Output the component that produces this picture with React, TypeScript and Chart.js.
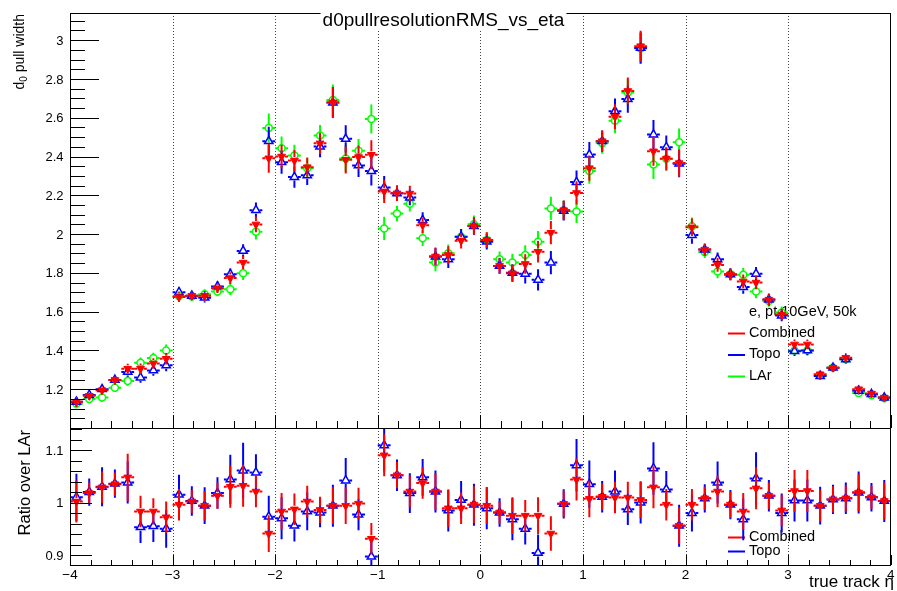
import React, { useEffect, useRef } from 'react';
import { Chart, registerables } from 'chart.js';

Chart.register(...registerables);

const FONT = '"Liberation Sans", Arial, Helvetica, sans-serif';

// 64 eta bins of width 0.125 between -4 and 4
const etaBinCentres = [
  -3.9375, -3.8125, -3.6875, -3.5625, -3.4375, -3.3125, -3.1875, -3.0625,
  -2.9375, -2.8125, -2.6875, -2.5625, -2.4375, -2.3125, -2.1875, -2.0625,
  -1.9375, -1.8125, -1.6875, -1.5625, -1.4375, -1.3125, -1.1875, -1.0625,
  -0.9375, -0.8125, -0.6875, -0.5625, -0.4375, -0.3125, -0.1875, -0.0625,
  0.0625, 0.1875, 0.3125, 0.4375, 0.5625, 0.6875, 0.8125, 0.9375,
  1.0625, 1.1875, 1.3125, 1.4375, 1.5625, 1.6875, 1.8125, 1.9375,
  2.0625, 2.1875, 2.3125, 2.4375, 2.5625, 2.6875, 2.8125, 2.9375,
  3.0625, 3.1875, 3.3125, 3.4375, 3.5625, 3.6875, 3.8125, 3.9375,
];
const etaBinHalfWidth = 0.0625;

// d0 pull width per eta bin
const pullCombined = [
  1.135, 1.166, 1.195, 1.248, 1.306, 1.306, 1.333, 1.357,
  1.675, 1.682, 1.682, 1.721, 1.773, 1.853, 2.05, 2.391,
  2.4, 2.379, 2.345, 2.468, 2.678, 2.383, 2.397, 2.409,
  2.22, 2.21, 2.209, 2.046, 1.884, 1.892, 1.966, 2.041,
  1.969, 1.836, 1.798, 1.846, 1.909, 2.007, 2.123, 2.212,
  2.34, 2.479, 2.605, 2.738, 2.969, 2.427, 2.388, 2.366,
  2.035, 1.92, 1.841, 1.792, 1.756, 1.75, 1.662, 1.585,
  1.431, 1.431, 1.277, 1.311, 1.362, 1.2, 1.178, 1.157,
];
const pullTopo = [
  1.135, 1.17, 1.2, 1.248, 1.289, 1.26, 1.297, 1.323,
  1.7, 1.682, 1.672, 1.73, 1.793, 1.913, 2.123, 2.479,
  2.371, 2.294, 2.303, 2.451, 2.678, 2.491, 2.354, 2.325,
  2.24, 2.21, 2.188, 2.072, 1.884, 1.87, 1.986, 2.041,
  1.961, 1.836, 1.8, 1.795, 1.764, 1.853, 2.12, 2.268,
  2.41, 2.479, 2.634, 2.696, 2.96, 2.513, 2.448, 2.363,
  1.995, 1.92, 1.87, 1.792, 1.727, 1.795, 1.662, 1.58,
  1.396, 1.4, 1.268, 1.311, 1.354, 1.192, 1.175, 1.157,
];
const pullLAr = [
  1.125, 1.149, 1.157, 1.207, 1.243, 1.337, 1.361, 1.4,
  1.68, 1.678, 1.69, 1.704, 1.716, 1.798, 2.012, 2.547,
  2.443, 2.405, 2.34, 2.508, 2.691, 2.39, 2.43, 2.593,
  2.029, 2.106, 2.157, 1.978, 1.853, 1.901, 1.986, 2.051,
  1.97, 1.87, 1.853, 1.892, 1.961, 2.132, 2.123, 2.117,
  2.325, 2.469, 2.585, 2.73, 2.957, 2.359, 2.388, 2.474,
  2.04, 1.907, 1.807, 1.793, 1.79, 1.704, 1.655, 1.596,
  1.4, 1.4, 1.272, 1.311, 1.354, 1.18, 1.169, 1.153,
];
const pullError = [
  0.025, 0.022, 0.022, 0.022, 0.025, 0.027, 0.027, 0.03,
  0.025, 0.022, 0.025, 0.025, 0.03, 0.035, 0.04, 0.075,
  0.06, 0.055, 0.05, 0.055, 0.08, 0.07, 0.06, 0.075,
  0.06, 0.04, 0.04, 0.04, 0.045, 0.045, 0.04, 0.045,
  0.04, 0.04, 0.045, 0.05, 0.055, 0.06, 0.05, 0.06,
  0.065, 0.055, 0.065, 0.07, 0.08, 0.075, 0.06, 0.07,
  0.045, 0.03, 0.035, 0.03, 0.035, 0.035, 0.03, 0.03,
  0.025, 0.025, 0.02, 0.02, 0.022, 0.02, 0.018, 0.018,
];

// ratios to the LAr measurement
const ratioCombined = [
  1.002, 1.018, 1.029, 1.035, 1.048, 0.983, 0.983, 0.972,
  0.996, 1.002, 0.994, 1.013, 1.03, 1.032, 1.021, 0.941,
  0.983, 0.987, 1.002, 0.986, 0.994, 0.994, 0.998, 0.931,
  1.09, 1.052, 1.021, 1.037, 1.021, 0.989, 0.989, 0.996,
  0.994, 0.981, 0.975, 0.975, 0.975, 0.941, 0.9975, 1.044,
  1.007, 1.011, 1.0095, 1.0095, 1.005, 1.029, 0.996, 0.956,
  0.996, 1.008, 1.021, 0.996, 0.983, 1.027, 1.013, 0.985,
  1.022, 1.022, 0.994, 1.006, 1.008, 1.019, 1.01, 1.003,
];
const ratioTopo = [
  1.01, 1.02, 1.03, 1.036, 1.038, 0.953, 0.955, 0.95,
  1.015, 1.003, 0.994, 1.018, 1.044, 1.061, 1.057, 0.973,
  0.97, 0.956, 0.983, 0.981, 0.994, 1.042, 0.977, 0.897,
  1.109, 1.052, 1.018, 1.048, 1.021, 0.985, 1.005, 0.996,
  0.989, 0.981, 0.968, 0.95, 0.904, 0.869, 0.9975, 1.071,
  1.035, 1.011, 1.021, 0.987, 1.0, 1.065, 1.025, 0.956,
  0.98, 1.008, 1.038, 0.996, 0.968, 1.046, 1.013, 0.98,
  1.004, 1.004, 0.994, 1.006, 1.008, 1.019, 1.01, 1.003,
];
const ratioErrCombined = [
  0.04, 0.02, 0.03, 0.022, 0.045, 0.03, 0.025, 0.03,
  0.03, 0.022, 0.028, 0.025, 0.04, 0.04, 0.03, 0.035,
  0.035, 0.03, 0.03, 0.025, 0.035, 0.035, 0.03, 0.03,
  0.04, 0.025, 0.03, 0.03, 0.035, 0.035, 0.03, 0.035,
  0.035, 0.022, 0.035, 0.03, 0.035, 0.033, 0.025, 0.04,
  0.035, 0.025, 0.03, 0.03, 0.035, 0.04, 0.03, 0.035,
  0.03, 0.022, 0.03, 0.025, 0.035, 0.04, 0.025, 0.03,
  0.04, 0.04, 0.03, 0.025, 0.025, 0.035, 0.022, 0.035,
];
const ratioErrTopo = [
  0.045, 0.026, 0.037, 0.027, 0.04, 0.03, 0.03, 0.036,
  0.038, 0.028, 0.035, 0.03, 0.047, 0.053, 0.035, 0.04,
  0.04, 0.03, 0.036, 0.028, 0.04, 0.043, 0.03, 0.03,
  0.05, 0.03, 0.038, 0.035, 0.04, 0.04, 0.036, 0.04,
  0.04, 0.027, 0.04, 0.03, 0.035, 0.035, 0.028, 0.05,
  0.045, 0.03, 0.04, 0.03, 0.04, 0.05, 0.035, 0.04,
  0.035, 0.027, 0.04, 0.028, 0.04, 0.05, 0.03, 0.037,
  0.04, 0.04, 0.036, 0.028, 0.03, 0.04, 0.027, 0.04,
];

const pullTickValues = [1.2, 1.4, 1.6, 1.8, 2, 2.2, 2.4, 2.6, 2.8, 3];
const pullTickLabels = ['1.2', '1.4', '1.6', '1.8', '2', '2.2', '2.4', '2.6', '2.8', '3'];
const ratioTickValues = [0.9, 1, 1.1];
const ratioTickLabels = ['0.9', '1', '1.1'];
const etaTickValues = [-4, -3, -2, -1, 0, 1, 2, 3, 4];
const etaTickLabels = ['\u22124', '\u22123', '\u22122', '\u22121', '0', '1', '2', '3', '4'];
const etaGridValues = [-3, -2, -1, 0, 1, 2, 3];

const RED = '#ff0000';
const BLUE = '#0000ff';
const GREEN = '#00ff00';
const GAP = 3.5;

type TextPart = { text: string; size: number; dy: number };

function drawRotated(ctx: CanvasRenderingContext2D, baseX: number, endY: number, parts: TextPart[]) {
  ctx.save();
  ctx.translate(baseX, endY);
  ctx.rotate(-Math.PI / 2);
  ctx.fillStyle = '#000';
  ctx.textAlign = 'left';
  ctx.textBaseline = 'alphabetic';
  let total = 0;
  for (const p of parts) {
    ctx.font = `${p.size}px ${FONT}`;
    total += ctx.measureText(p.text).width;
  }
  let pos = -total;
  for (const p of parts) {
    ctx.font = `${p.size}px ${FONT}`;
    ctx.fillText(p.text, pos, p.dy);
    pos += ctx.measureText(p.text).width;
  }
  ctx.restore();
}

type LegendEntry = { label: string; color: string; y: number };

type PadConfig = {
  errors: number[][];
  colors: string[];
  yTicks: number[];
  yLabels: string[];
  yMinorStep: number;
  yMajorLen: number;
  yMinorLen: number;
  xMajorLen: number;
  xMinorLen: number;
  header?: { text: string; y: number };
  legend: LegendEntry[];
  legendFont: number;
  extras: (ctx: CanvasRenderingContext2D, chart: any) => void;
};

function makePadPlugin(cfg: PadConfig) {
  return {
    id: 'rootPad',
    beforeDatasetsDraw(chart: any) {
      const { ctx, chartArea: a, scales } = chart;
      ctx.save();
      // dotted vertical grid at integer eta
      ctx.strokeStyle = '#444';
      ctx.lineWidth = 1;
      ctx.setLineDash([1, 2]);
      for (const v of etaGridValues) {
        const px = Math.round(scales.x.getPixelForValue(v)) + 0.5;
        ctx.beginPath();
        ctx.moveTo(px, a.top);
        ctx.lineTo(px, a.bottom);
        ctx.stroke();
      }
      ctx.setLineDash([]);
      // legend (drawn beneath the markers)
      ctx.textAlign = 'left';
      ctx.textBaseline = 'middle';
      ctx.fillStyle = '#000';
      if (cfg.header) {
        ctx.font = `14.5px ${FONT}`;
        ctx.fillText(cfg.header.text, 749, cfg.header.y);
      }
      ctx.font = `${cfg.legendFont}px ${FONT}`;
      for (const e of cfg.legend) {
        ctx.strokeStyle = e.color;
        ctx.lineWidth = 2;
        ctx.beginPath();
        ctx.moveTo(728, e.y + 1);
        ctx.lineTo(745, e.y + 1);
        ctx.stroke();
        ctx.fillStyle = '#000';
        ctx.fillText(e.label, 749, e.y);
      }
      ctx.restore();
    },
    beforeDatasetDraw(chart: any, args: any) {
      const { ctx, chartArea: a, scales } = chart;
      const xs = scales.x;
      const ys = scales.y;
      const errs = cfg.errors[args.index];
      const data = chart.data.datasets[args.index].data;
      ctx.save();
      ctx.beginPath();
      ctx.rect(a.left, a.top, a.right - a.left, a.bottom - a.top);
      ctx.clip();
      ctx.strokeStyle = cfg.colors[args.index];
      ctx.lineWidth = 2;
      data.forEach((p: any, i: number) => {
        if (p.y < ys.min || p.y > ys.max) return;
        const cx = xs.getPixelForValue(p.x);
        const cy = ys.getPixelForValue(p.y);
        const xl = xs.getPixelForValue(p.x - etaBinHalfWidth);
        const xr = xs.getPixelForValue(p.x + etaBinHalfWidth);
        const yt = ys.getPixelForValue(p.y + errs[i]);
        const yb = ys.getPixelForValue(p.y - errs[i]);
        ctx.beginPath();
        ctx.moveTo(xl, cy);
        ctx.lineTo(cx - GAP, cy);
        ctx.moveTo(cx + GAP, cy);
        ctx.lineTo(xr, cy);
        if (cy - yt > GAP) {
          ctx.moveTo(cx, yt);
          ctx.lineTo(cx, cy - GAP);
          ctx.moveTo(cx, cy + GAP);
          ctx.lineTo(cx, yb);
        }
        ctx.stroke();
      });
      ctx.restore();
    },
    afterDatasetsDraw(chart: any) {
      const { ctx, chartArea: a, scales } = chart;
      const xs = scales.x;
      const ys = scales.y;
      ctx.save();
      ctx.strokeStyle = '#000';
      ctx.lineWidth = 1;
      // frame
      ctx.strokeRect(Math.round(a.left) + 0.5, Math.round(a.top) + 0.5, Math.round(a.right - a.left) - 1, Math.round(a.bottom - a.top));
      // y ticks
      ctx.beginPath();
      const first = Math.ceil(ys.min / cfg.yMinorStep - 1e-6);
      const last = Math.floor(ys.max / cfg.yMinorStep + 1e-6);
      for (let i = first; i <= last; i++) {
        const py = Math.round(ys.getPixelForValue(i * cfg.yMinorStep)) + 0.5;
        ctx.moveTo(a.left, py);
        ctx.lineTo(a.left + cfg.yMinorLen, py);
      }
      for (const v of cfg.yTicks) {
        const py = Math.round(ys.getPixelForValue(v)) + 0.5;
        ctx.moveTo(a.left, py);
        ctx.lineTo(a.left + cfg.yMajorLen, py);
      }
      // x ticks pointing up from the bottom edge
      for (let i = -20; i <= 20; i++) {
        const px = Math.round(xs.getPixelForValue(i * 0.2)) + 0.5;
        const len = i % 5 === 0 ? cfg.xMajorLen : cfg.xMinorLen;
        ctx.moveTo(px, a.bottom);
        ctx.lineTo(px, a.bottom - len);
      }
      ctx.stroke();
      // y tick labels
      ctx.fillStyle = '#000';
      ctx.font = `13px ${FONT}`;
      ctx.textAlign = 'right';
      ctx.textBaseline = 'middle';
      cfg.yTicks.forEach((v, i) => {
        ctx.fillText(cfg.yLabels[i], 63.5, ys.getPixelForValue(v) + 1);
      });
      ctx.restore();
      cfg.extras(ctx, chart);
    },
  };
}

function buildTopChart(canvas: HTMLCanvasElement) {
  const pts = (vals: number[]) => etaBinCentres.map((x, i) => ({ x, y: vals[i] }));
  const plugin = makePadPlugin({
    errors: [pullError, pullError, pullError],
    colors: [RED, BLUE, GREEN],
    yTicks: pullTickValues,
    yLabels: pullTickLabels,
    yMinorStep: 0.05,
    yMajorLen: 29,
    yMinorLen: 15,
    xMajorLen: 13,
    xMinorLen: 7,
    header: { text: 'e, pt 10GeV, 50k', y: 311.5 },
    legend: [
      { label: 'Combined', color: RED, y: 332.5 },
      { label: 'Topo', color: BLUE, y: 354 },
      { label: 'LAr', color: GREEN, y: 375.5 },
    ],
    legendFont: 14.5,
    extras: (ctx) => {
      ctx.save();
      // title box sits on the top frame
      ctx.font = `19px ${FONT}`;
      const title = 'd0pullresolutionRMS_vs_eta';
      const w = ctx.measureText(title).width;
      ctx.fillStyle = '#fff';
      ctx.fillRect(443.5 - w / 2 - 2, 6, w + 4, 24);
      ctx.fillStyle = '#000';
      ctx.textAlign = 'center';
      ctx.textBaseline = 'alphabetic';
      ctx.fillText(title, 443.5, 26);
      ctx.restore();
      drawRotated(ctx, 24, 14, [
        { text: 'd', size: 14, dy: 0 },
        { text: '0', size: 10, dy: 3 },
        { text: ' pull width', size: 14, dy: 0 },
      ]);
    },
  });
  return new Chart(canvas, {
    type: 'scatter',
    data: {
      datasets: [
        {
          label: 'Combined', data: pts(pullCombined), order: 0, clip: 0,
          pointStyle: 'triangle', pointRotation: 180, pointRadius: 4.5,
          pointBackgroundColor: RED, pointBorderColor: RED, pointBorderWidth: 1,
        },
        {
          label: 'Topo', data: pts(pullTopo), order: 1, clip: 0,
          pointStyle: 'triangle', pointRadius: 4.8,
          pointBackgroundColor: 'rgba(255,255,255,0)', pointBorderColor: BLUE, pointBorderWidth: 1.5,
        },
        {
          label: 'LAr', data: pts(pullLAr), order: 2, clip: 0,
          pointStyle: 'circle', pointRadius: 3.5,
          pointBackgroundColor: 'rgba(255,255,255,0)', pointBorderColor: GREEN, pointBorderWidth: 1.5,
        },
      ],
    } as any,
    options: {
      animation: false,
      responsive: false,
      maintainAspectRatio: false,
      events: [],
      layout: { padding: { left: 70, right: 3, top: 13, bottom: 163 } },
      scales: {
        x: { type: 'linear', min: -4, max: 4, display: false },
        y: { type: 'linear', min: 1.0, max: 3.14, display: false },
      },
      plugins: { legend: { display: false }, tooltip: { enabled: false } },
    } as any,
    plugins: [plugin as any],
  });
}

function buildRatioChart(canvas: HTMLCanvasElement) {
  const pts = (vals: number[]) => etaBinCentres.map((x, i) => ({ x, y: vals[i] }));
  const plugin = makePadPlugin({
    errors: [ratioErrCombined, ratioErrTopo],
    colors: [RED, BLUE],
    yTicks: ratioTickValues,
    yLabels: ratioTickLabels,
    yMinorStep: 0.02,
    yMajorLen: 22,
    yMinorLen: 12,
    xMajorLen: 10,
    xMinorLen: 5,
    legend: [
      { label: 'Combined', color: RED, y: 536.5 },
      { label: 'Topo', color: BLUE, y: 550.5 },
    ],
    legendFont: 14.5,
    extras: (ctx, chart) => {
      const xs = chart.scales.x;
      ctx.save();
      ctx.fillStyle = '#000';
      ctx.font = `13.5px ${FONT}`;
      ctx.textAlign = 'center';
      ctx.textBaseline = 'alphabetic';
      etaTickValues.forEach((v, i) => {
        ctx.fillText(etaTickLabels[i], xs.getPixelForValue(v), 578.5);
      });
      ctx.font = `17px ${FONT}`;
      ctx.textAlign = 'right';
      ctx.fillText('true track \u03b7', 894, 587);
      ctx.restore();
      drawRotated(ctx, 30, 430, [{ text: 'Ratio over LAr', size: 16.5, dy: 0 }]);
    },
  });
  return new Chart(canvas, {
    type: 'scatter',
    data: {
      datasets: [
        {
          label: 'Combined', data: pts(ratioCombined), order: 0, clip: 0,
          pointStyle: 'triangle', pointRotation: 180, pointRadius: 4.5,
          pointBackgroundColor: RED, pointBorderColor: RED, pointBorderWidth: 1,
        },
        {
          label: 'Topo', data: pts(ratioTopo), order: 1, clip: 0,
          pointStyle: 'triangle', pointRadius: 4.8,
          pointBackgroundColor: 'rgba(255,255,255,0)', pointBorderColor: BLUE, pointBorderWidth: 1.5,
        },
      ],
    } as any,
    options: {
      animation: false,
      responsive: false,
      maintainAspectRatio: false,
      events: [],
      layout: { padding: { left: 70, right: 3, top: 428, bottom: 26 } },
      scales: {
        x: { type: 'linear', min: -4, max: 4, display: false },
        y: { type: 'linear', min: 0.881, max: 1.142, display: false },
      },
      plugins: { legend: { display: false }, tooltip: { enabled: false } },
    } as any,
    plugins: [plugin as any],
  });
}

export default function App() {
  const topRef = useRef<HTMLCanvasElement>(null);
  const ratioRef = useRef<HTMLCanvasElement>(null);

  useEffect(() => {
    const top = buildTopChart(topRef.current!);
    const ratio = buildRatioChart(ratioRef.current!);
    return () => {
      top.destroy();
      ratio.destroy();
    };
  }, []);

  const canvasStyle: React.CSSProperties = { position: 'absolute', left: 0, top: 0, width: 897, height: 591 };
  return (
    <div style={{ position: 'fixed', left: 0, top: 0, width: 897, height: 591, background: '#fff' }}>
      <canvas ref={topRef} width={897} height={591} style={canvasStyle} />
      <canvas ref={ratioRef} width={897} height={591} style={canvasStyle} />
    </div>
  );
}
